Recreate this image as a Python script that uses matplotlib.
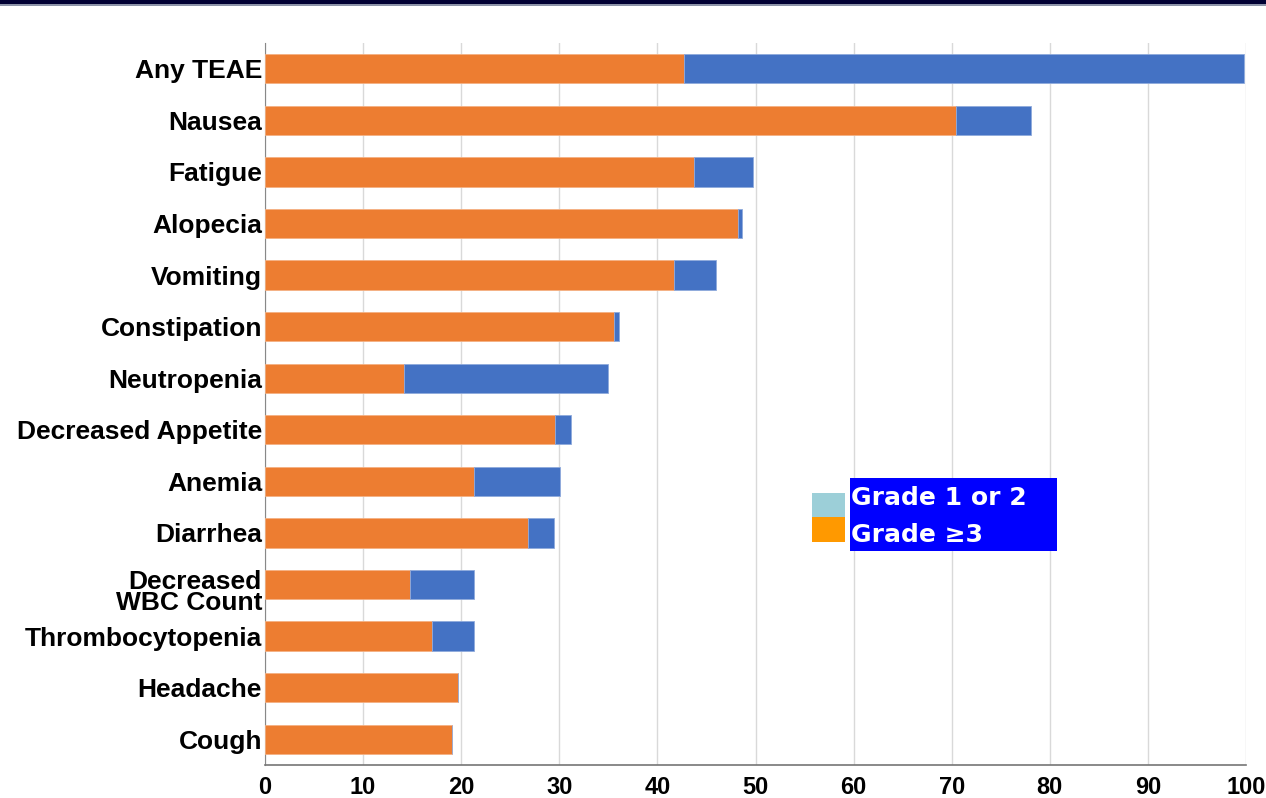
import matplotlib
matplotlib.use("Agg")
import matplotlib.pyplot as plt
from matplotlib.patches import Rectangle
from matplotlib.transforms import ScaledTranslation

categories = ["Any TEAE", "Nausea", "Fatigue", "Alopecia", "Vomiting", "Constipation",
              "Neutropenia", "Decreased Appetite", "Anemia", "Diarrhea",
              "Decreased\nWBC Count", "Thrombocytopenia", "Headache", "Cough"]
grade_low = [42.7, 70.4, 43.7, 48.2, 41.7, 35.6, 14.2, 29.6, 21.3, 26.8, 14.8, 17.0, 19.7, 19.1]
total = [99.8, 78.1, 49.7, 48.6, 46.0, 36.1, 35.0, 31.2, 30.1, 29.5, 21.3, 21.3, 19.7, 19.1]
grade_high = [t - g for t, g in zip(total, grade_low)]
xticks = list(range(0, 101, 10))
legend_labels = ["Grade 1 or 2", "Grade \u22653"]

plt.rcParams['font.family'] = ['Liberation Sans', 'DejaVu Sans']

fig = plt.figure(figsize=(12.66, 7.98), dpi=100)
ax = fig.add_axes([265 / 1266, 1 - 765 / 798, (1246 - 265) / 1266, (765 - 43) / 798])

# top banner
fig.patches.append(Rectangle((0, 1 - 4 / 798), 1, 4 / 798, transform=fig.transFigure,
                             facecolor="#000033", edgecolor="none"))
fig.patches.append(Rectangle((0, 1 - 6 / 798), 1, 2 / 798, transform=fig.transFigure,
                             facecolor="#8c93a8", edgecolor="none"))

y = list(range(len(categories)))
ax.barh(y, grade_low, height=0.57, color="#ed7d31", edgecolor="#f4b183", linewidth=0.6, zorder=3)
ax.barh(y, grade_high, left=grade_low, height=0.57, color="#4472c4", edgecolor="#8faadc",
        linewidth=0.6, zorder=3)

ax.set_xlim(0, 100)
ax.set_ylim(13.5, -0.5)
ax.set_yticks(y)
ax.set_yticklabels([])
# category labels, set slightly below the bar centres
for yi, name in zip(y, categories):
    dy = -8 if "\n" in name else -2.5
    off = ScaledTranslation(-3 / 100, dy / 100, fig.dpi_scale_trans)
    ax.text(0, yi, name, transform=ax.get_yaxis_transform() + off, ha="right", va="center",
            fontsize=19, fontweight="bold", linespacing=0.88)
ax.set_xticks(xticks)
ax.set_xticklabels([str(v) for v in xticks], fontsize=17, fontweight="bold")
ax.tick_params(axis="y", length=0)
ax.tick_params(axis="x", length=0, pad=8)
ax.grid(axis="x", color="#d9d9d9", linewidth=1, zorder=0)
for side in ["top", "right"]:
    ax.spines[side].set_visible(False)
ax.spines["left"].set_color("#888888")
ax.spines["bottom"].set_color("#767676")
ax.spines["bottom"].set_linewidth(1.2)

# legend block
def fx(px):
    return px / 1266

def fy(py):
    return 1 - py / 798

fig.patches.append(Rectangle((fx(812), fy(517)), fx(845) - fx(812), fy(493) - fy(517),
                             transform=fig.transFigure, facecolor="#9ccfd8", edgecolor="none", zorder=5))
fig.patches.append(Rectangle((fx(812), fy(542)), fx(845) - fx(812), fy(517) - fy(542),
                             transform=fig.transFigure, facecolor="#ff9900", edgecolor="none", zorder=5))
fig.patches.append(Rectangle((fx(850), fy(551)), fx(1057) - fx(850), fy(478) - fy(551),
                             transform=fig.transFigure, facecolor="#0000ff", edgecolor="none", zorder=5))
fig.text(fx(851), fy(498), legend_labels[0], color="white", fontsize=18, fontweight="bold",
         va="center", ha="left", zorder=6, family=['Verdana', 'DejaVu Sans'])
fig.text(fx(851), fy(535), legend_labels[1], color="white", fontsize=18, fontweight="bold",
         va="center", ha="left", zorder=6, family=['Verdana', 'DejaVu Sans'])

fig.savefig("out.png", dpi=100)
